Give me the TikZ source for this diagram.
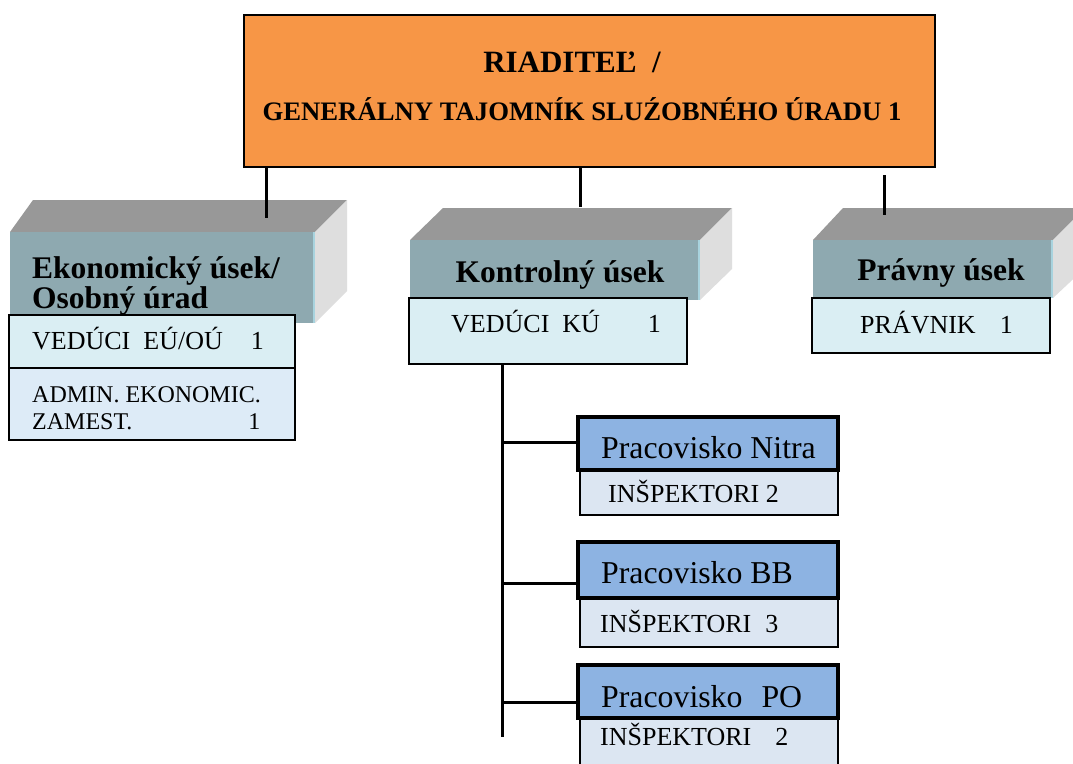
\documentclass[tikz,border=0pt]{standalone}
\usepackage{fontspec}
\setmainfont{Liberation Serif}
\definecolor{orangebox}{HTML}{F79646}
\definecolor{topface}{HTML}{989898}
\definecolor{frontface}{HTML}{8EA9B0}
\definecolor{sideface}{HTML}{DEDEDE}
\definecolor{edgecyan}{HTML}{A8D3DE}
\definecolor{lightcyan}{HTML}{DAEEF3}
\definecolor{lightblue}{HTML}{DDEBF7}
\definecolor{headblue}{HTML}{8DB3E2}
\definecolor{inspblue}{HTML}{DCE6F2}
\begin{document}
\begin{tikzpicture}[x=1pt,y=-1pt,
  box/.style={draw=black, line width=1.8pt, inner sep=0pt, outer sep=0pt, anchor=north west},
  headbox/.style={box, line width=3.4pt, fill=headblue},
  titletext/.style={font=\fontsize{31.5}{36}\selectfont\bfseries, inner sep=0pt},
  plaintext/.style={font=\fontsize{26}{30}\selectfont, anchor=base west, inner sep=0pt},
  smalltext/.style={font=\fontsize{24}{28}\selectfont, anchor=base west, inner sep=0pt},
  bigtext/.style={font=\fontsize{31.8}{36}\selectfont, anchor=base west, inner sep=0pt},
  conn/.style={line width=3pt},
  face3d/.style={fill=frontface},
  top3d/.style={fill=topface},
  side3d/.style={fill=sideface}]
\useasboundingbox (0,0) rectangle (1073,763);
\fill[white] (0,0) rectangle (1073,763);

% ---------- top box ----------
\node[box, fill=orangebox, minimum width=691pt, minimum height=152pt] (director) at (244,15) {};
\node[inner sep=0pt, anchor=base, font=\fontsize{31}{36}\selectfont\bfseries] (dirl1) at (572,72) {RIADITEĽ\ \ /};
\node[inner sep=0pt, anchor=base, font=\fontsize{26.7}{32}\selectfont\bfseries] (dirl2) at (582,120) {GENERÁLNY TAJOMNÍK SLUŹOBNÉHO ÚRADU 1};

% ---------- Ekonomicky usek (3D) ----------
\fill[top3d] (10,232) -- (315,232) -- (347,200) -- (33,200) -- cycle;
\fill[side3d] (315,232) -- (347,200) -- (347,291) -- (315,323) -- cycle;
\fill[face3d] (10,232) rectangle (315,323);
\draw[edgecyan, line width=1.5pt] (314,232) -- (314,323);
\node[titletext, anchor=base west] (ekot1) at (32,278) {Ekonomický úsek/};
\node[titletext, anchor=base west] (ekot2) at (32,308) {Osobný úrad};
\coordinate (ekotop) at (266,218);

% ---------- Kontrolny usek (3D) ----------
\fill[top3d] (410,240) -- (700,240) -- (732,208) -- (443,208) -- cycle;
\fill[side3d] (700,240) -- (732,208) -- (732,269) -- (700,300) -- cycle;
\fill[face3d] (410,240) rectangle (700,300);
\draw[edgecyan, line width=1.5pt] (699,240) -- (699,300);
\node[titletext, anchor=base] (kont) at (560,282) {Kontrolný úsek};
\coordinate (konttop) at (580,207);

% ---------- Pravny usek (3D) ----------
\fill[top3d] (813,240) -- (1053,240) -- (1085,208) -- (843,208) -- cycle;
\fill[side3d] (1053,240) -- (1085,208) -- (1085,268) -- (1053,298) -- cycle;
\fill[face3d] (813,240) rectangle (1053,298);
\draw[edgecyan, line width=1.5pt] (1052,240) -- (1052,298);
\node[titletext, anchor=base] (prav) at (941,280) {Právny úsek};
\coordinate (pravtop) at (884,215);
\coordinate (pravstart) at (884,175);

% ---------- staff boxes ----------
\node[box, fill=lightcyan, minimum width=286pt, minimum height=53pt] (vedeu) at (9,315) {};
\node[plaintext] (vedeut) at (32,349) {VEDÚCI\ \ EÚ/OÚ\hspace{28pt}1};
\node[box, fill=lightblue, minimum width=286pt, minimum height=72pt] (admin) at (9,368) {};
\node[smalltext] (admint1) at (32,402) {ADMIN. EKONOMIC.};
\node[smalltext] (admint2) at (32,429) {ZAMEST.\hspace{116pt}1};

\node[box, fill=lightcyan, minimum width=278pt, minimum height=66pt] (vedku) at (409,298) {};
\node[plaintext] (vedkut) at (451,332) {VEDÚCI\ \ KÚ\hspace{48pt}1};

\node[box, fill=lightcyan, minimum width=238pt, minimum height=55pt] (pravnik) at (812,298) {};
\node[plaintext] (pravnikt) at (860,333) {PRÁVNIK\hspace{24pt}1};

% ---------- Pracoviska ----------
\node[box, fill=inspblue, minimum width=258pt, minimum height=45pt] (nitrai) at (580,470) {};
\node[headbox, minimum width=260pt, minimum height=53pt] (nitra) at (578,417) {};
\node[bigtext] (nitrat) at (601,458) {Pracovisko Nitra};
\node[plaintext] (nitrait) at (608,502) {INŠPEKTORI 2};

\node[box, fill=inspblue, minimum width=258pt, minimum height=49pt] (bbi) at (580,598) {};
\node[headbox, minimum width=260pt, minimum height=56pt] (bb) at (578,542) {};
\node[bigtext] (bbt) at (601,583) {Pracovisko BB};
\node[plaintext] (bbit) at (600,632) {INŠPEKTORI\hspace{14pt}3};

\node[box, fill=inspblue, minimum width=258pt, minimum height=60pt] (poi) at (580,718) {};
\node[headbox, minimum width=260pt, minimum height=53pt] (po) at (578,665) {};
\node[bigtext] (pot) at (601,707) {Pracovisko\hspace{19pt}PO};
\node[plaintext] (poit) at (600,745) {INŠPEKTORI\hspace{24pt}2};

% ---------- connectors ----------
\draw[conn] (director.south -| ekotop) -- (ekotop);
\draw[conn] (director.south -| konttop) -- (konttop);
\draw[conn] (pravstart) -- (pravtop);

\coordinate (vtop) at (502,364);
\coordinate (vbot) at (502,737);
\draw[conn] (vedku.south -| vtop) -- (vbot);
\draw[conn] (nitra.west |- 0,442) -- (vtop |- 0,442);
\draw[conn] (bb.west |- 0,583) -- (vtop |- 0,583);
\draw[conn] (po.west |- 0,702) -- (vtop |- 0,702);
\end{tikzpicture}
\end{document}
